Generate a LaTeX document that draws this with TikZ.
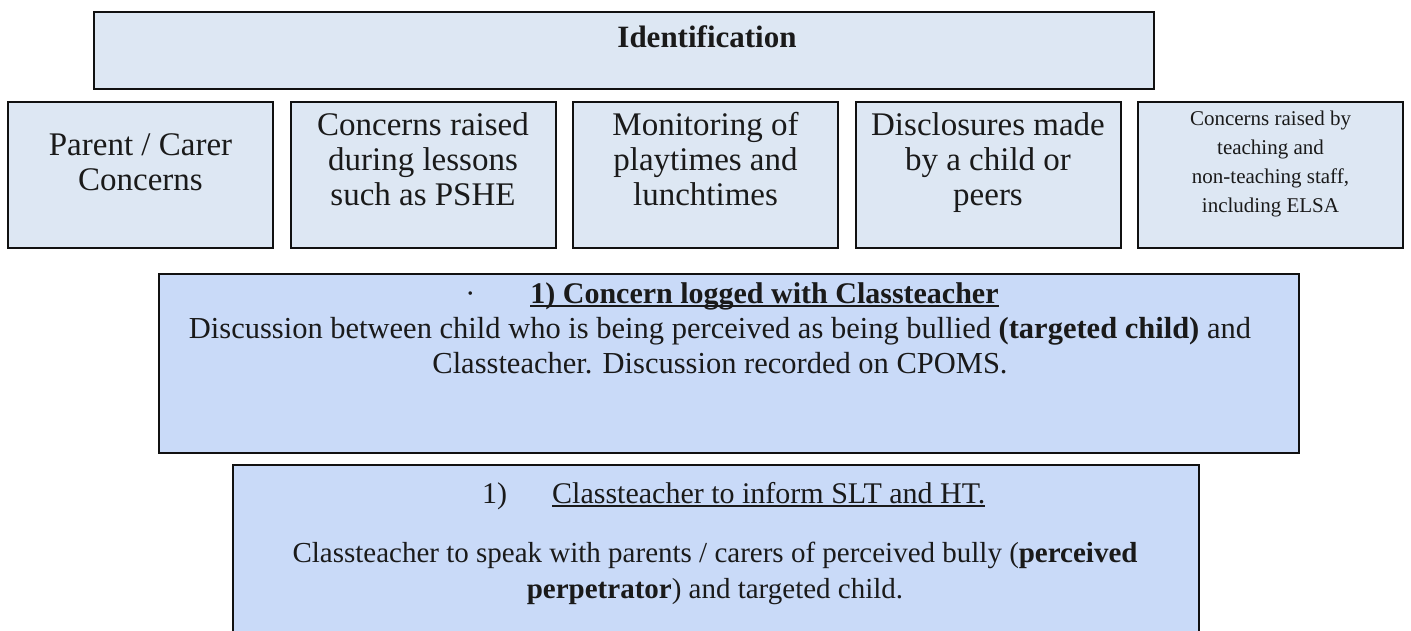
\documentclass[tikz,border=0pt]{standalone}
\usepackage{fontspec}
\setmainfont{Liberation Serif}
\usepackage{xcolor}
\usetikzlibrary{positioning}
\definecolor{idfill}{HTML}{DDE7F3}
\definecolor{stepfill}{HTML}{C9DAF8}
\definecolor{edge}{HTML}{111111}
\definecolor{ink}{HTML}{1A1A1A}
\newcommand{\undr}[1]{\sbox0{#1}\rlap{\rule[-4pt]{\wd0}{1.6pt}}\usebox0}
\tikzset{
  idbox/.style={draw=edge, line width=2pt, fill=idfill, inner sep=0pt, anchor=north west},
  srcbox/.style={draw=edge, line width=2pt, fill=idfill, inner sep=0pt, minimum width=265pt, minimum height=146pt},
  stepbox/.style={draw=edge, line width=2pt, fill=stepfill, inner sep=0pt, anchor=north west},
  txt/.style={text=ink, inner sep=0pt, align=center, anchor=base, font={\fontsize{30}{35}\selectfont}},
  srctxt/.style={txt, font={\fontsize{33}{35}\selectfont}},
  smalltxt/.style={txt, font={\fontsize{21}{29}\selectfont}},
}
\begin{document}
\begin{tikzpicture}[x=1pt,y=-1pt]
\clip (0,0) rectangle (1411,631);
\fill[white] (0,0) rectangle (1411,631);
% title
\node[idbox, minimum width=1060pt, minimum height=77pt] (ident) at (93,11) {};
\node[txt, font={\bfseries\fontsize{31}{35}\selectfont}] (identtxt) at (707,48) {Identification};
% sources of concern (base = last line)
\node[srcbox, anchor=north west] (parent) at (7,101) {};
\node[srcbox, right=15.5pt of parent] (lessons) {};
\node[srcbox, right=15.5pt of lessons] (play) {};
\node[srcbox, right=15.5pt of play] (disclose) {};
\node[srcbox, right=15.5pt of disclose] (staff) {};
\node[srctxt] (parenttxt) at ([yshift=-90pt]parent.north) {Parent / Carer\\Concerns};
\node[srctxt] (lessonstxt) at ([yshift=-105pt]lessons.north) {Concerns raised\\during lessons\\such as PSHE};
\node[srctxt] (playtxt) at ([yshift=-105pt]play.north) {Monitoring of\\playtimes and\\lunchtimes};
\node[srctxt] (disclosetxt) at ([yshift=-105pt]disclose.north) {Disclosures made\\by a child or\\peers};
\node[smalltxt] (stafftxt) at ([yshift=-112pt]staff.north) {Concerns raised by\\teaching and\\non-teaching staff,\\including ELSA};
% step 1
\node[stepbox, minimum width=1140pt, minimum height=179pt] (logged) at (158,273) {};
\node[txt] (loggedhead) at (732,303) {·\hspace{55pt}\undr{\textbf{1) Concern logged with Classteacher}}};
\node[txt, font={\fontsize{30.5}{35}\selectfont}] (loggedbody) at (720,373) {Discussion between child who is being perceived as being bullied \textbf{(targeted child)} and\\Classteacher. Discussion recorded on CPOMS.};
% step 2
\node[stepbox, minimum width=966pt, minimum height=200pt] (inform) at (232,464) {};
\node[txt, anchor=base west] (informhead) at (482,503) {1)\hspace{45pt}\undr{Classteacher to inform SLT and HT.}};
\node[txt, font={\fontsize{29}{36}\selectfont}] (informbody) at (715,598) {Classteacher to speak with parents / carers of perceived bully (\textbf{perceived}\\\textbf{perpetrator}) and targeted child.};
\end{tikzpicture}
\end{document}
